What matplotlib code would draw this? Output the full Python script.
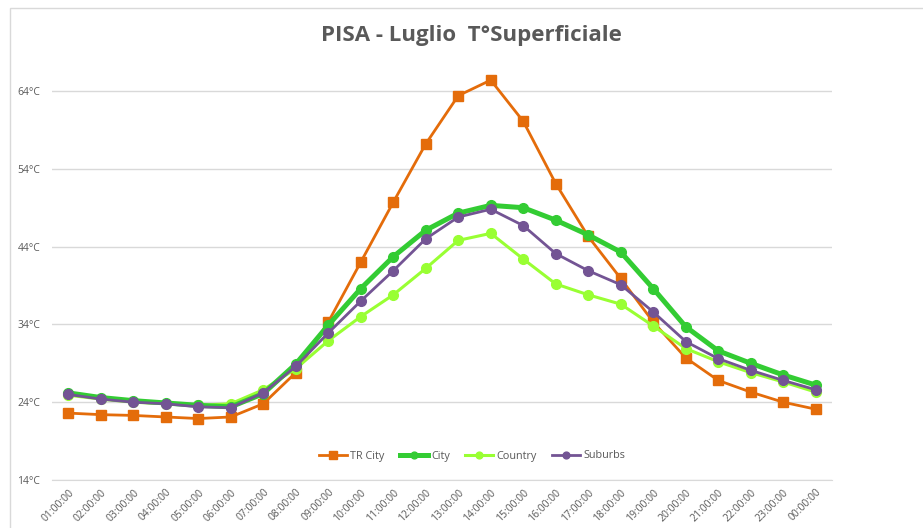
import matplotlib
matplotlib.use("Agg")
import matplotlib.pyplot as plt
from matplotlib.patches import Rectangle

hours = ["01:00:00", "02:00:00", "03:00:00", "04:00:00", "05:00:00", "06:00:00",
         "07:00:00", "08:00:00", "09:00:00", "10:00:00", "11:00:00", "12:00:00",
         "13:00:00", "14:00:00", "15:00:00", "16:00:00", "17:00:00", "18:00:00",
         "19:00:00", "20:00:00", "21:00:00", "22:00:00", "23:00:00", "00:00:00"]

tr_city = [22.6, 22.4, 22.3, 22.1, 21.9, 22.1, 23.8, 27.8, 34.3, 42.0, 49.7, 57.2,
           63.4, 65.4, 60.1, 52.1, 45.3, 39.9, 34.3, 29.7, 26.8, 25.3, 24.0, 23.1]
city = [25.2, 24.6, 24.2, 23.9, 23.6, 23.4, 25.1, 28.9, 33.9, 38.6, 42.7, 46.1,
        48.3, 49.3, 49.0, 47.4, 45.5, 43.3, 38.6, 33.7, 30.6, 29.0, 27.5, 26.2]
country = [24.9, 24.4, 24.0, 23.8, 23.6, 23.8, 25.6, 28.3, 31.9, 35.0, 37.8, 41.2,
           44.8, 45.7, 42.4, 39.2, 37.8, 36.6, 33.8, 30.9, 29.2, 27.8, 26.6, 25.3]
suburbs = [25.0, 24.4, 24.0, 23.8, 23.4, 23.3, 25.2, 28.6, 32.9, 37.0, 40.9, 45.0,
           47.8, 48.8, 46.7, 43.1, 40.9, 39.1, 35.6, 31.8, 29.6, 28.1, 26.8, 25.6]

yticks = [14, 24, 34, 44, 54, 64]

W, H = 923, 528
fig = plt.figure(figsize=(W / 100, H / 100), dpi=100)
fig.patch.set_facecolor("white")

# chart border
fig.add_artist(Rectangle((10 / W, -0.1), 1.2, (H - 8) / H + 0.1, transform=fig.transFigure,
                         fill=False, edgecolor="#d9d9d9", linewidth=1.0))

ax = fig.add_axes([52 / W, 1 - 480 / H, (832 - 52) / W, (480 - 70) / H])
x = list(range(len(hours)))

ax.plot(x, tr_city, color="#E46C0A", lw=2.0, marker="s", ms=7.5, label="TR City", zorder=3)
ax.plot(x, city, color="#33CC33", lw=3.6, marker="o", ms=7, label="City", zorder=4)
ax.plot(x, country, color="#99FF33", lw=2.2, marker="o", ms=7, label="Country", zorder=3)
ax.plot(x, suburbs, color="#735494", lw=2.0, marker="o", ms=7, label="Suburbs", zorder=5)

ax.set_xlim(-0.5, len(hours) - 0.5)
ylo = 14
yhi = 14 + (480 - 70) / 7.78
ax.set_ylim(ylo, yhi)
ax.set_yticks(yticks)
ax.set_yticklabels([f"{v}°C" for v in yticks], fontsize=7.5, color="#595959", family="Open Sans")
ax.set_xticks(x)
ax.set_xticklabels(hours, rotation=45, ha="right", rotation_mode="anchor",
                   fontsize=7.5, color="#595959", family="Open Sans")
ax.tick_params(axis="both", length=0)
ax.tick_params(axis="y", pad=8.5)
ax.tick_params(axis="x", pad=5)
ax.grid(axis="y", color="#d9d9d9", lw=1.0)
ax.set_axisbelow(True)
for s in ["top", "right", "left"]:
    ax.spines[s].set_visible(False)
ax.spines["bottom"].set_color("#d9d9d9")
ax.spines["bottom"].set_zorder(1)

leg = ax.legend(loc="center", bbox_to_anchor=((472 - 52) / (832 - 52), (480 - 456) / (480 - 70)),
                ncol=4, frameon=False, fontsize=7.8, handlelength=2.6, handletextpad=0.3,
                columnspacing=1.4, markerscale=0.7)
for t in leg.get_texts():
    t.set_color("#595959")
    t.set_family("Open Sans")

fig.text(471 / W, 1 - 36 / H, "PISA - Luglio  T°Superficiale", ha="center", va="center",
         fontsize=16, fontweight="bold", color="#595959", family="Open Sans")

fig.savefig("out.png", dpi=100)
